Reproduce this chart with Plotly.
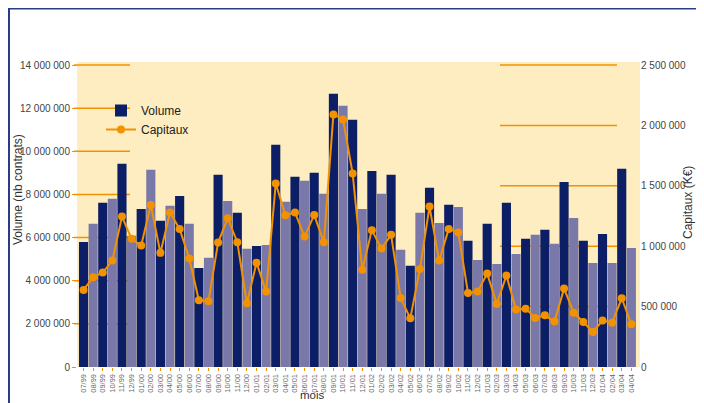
import plotly.graph_objects as go

months = ["07/99","08/99","09/99","10/99","11/99","12/99","01/00","02/00","03/00","04/00",
          "05/00","06/00","07/00","08/00","09/00","10/00","11/00","12/00","01/01","02/01",
          "03/01","04/01","05/01","06/01","07/01","08/01","09/01","10/01","11/01","12/01",
          "01/02","02/02","03/02","04/02","05/02","06/02","07/02","08/02","09/02","10/02",
          "11/02","12/02","01/03","02/03","03/03","04/03","05/03","06/03","07/03","08/03",
          "09/03","10/03","11/03","12/03","01/04","02/04","03/04","04/04"]

volume = [5800000, 6640000, 7610000, 7800000, 9420000, 6080000, 7330000, 9140000, 6780000, 7470000,
          7930000, 6640000, 4590000, 5060000, 8910000, 7700000, 7150000, 5480000, 5610000, 5660000,
          10300000, 7660000, 8820000, 8630000, 9000000, 8030000, 12670000, 12110000, 11460000, 7330000,
          9090000, 8030000, 8910000, 5430000, 4690000, 7150000, 8310000, 6680000, 7520000, 7420000,
          5850000, 4960000, 6640000, 4780000, 7610000, 5240000, 5940000, 6130000, 6360000, 5710000,
          8580000, 6910000, 5850000, 4820000, 6170000, 4820000, 9190000, 5520000]

capitaux = [638000, 743000, 782000, 881000, 1245000, 1061000, 1005000, 1342000, 945000, 1279000,
            1143000, 898000, 552000, 544000, 1030000, 1232000, 1033000, 528000, 864000, 624000,
            1519000, 1257000, 1279000, 1080000, 1259000, 1033000, 2091000, 2049000, 1602000, 806000,
            1133000, 980000, 1094000, 572000, 403000, 812000, 1328000, 881000, 1143000, 1113000,
            613000, 624000, 773000, 522000, 757000, 475000, 483000, 406000, 428000, 376000,
            649000, 450000, 373000, 290000, 384000, 367000, 569000, 354000]

left_ticks = [0, 2000000, 4000000, 6000000, 8000000, 10000000, 12000000, 14000000]
right_ticks = [0, 500000, 1000000, 1500000, 2000000, 2500000]

DARK = "#0C1E66"
LIGHT = "#7A78A8"
ORANGE = "#F39200"
bar_colors = [DARK if i % 2 == 0 else LIGHT for i in range(len(months))]

fig = go.Figure()
fig.add_trace(go.Bar(x=months, y=volume, name="Volume", marker=dict(color=bar_colors, line=dict(width=0)),
                     yaxis="y"))
fig.add_trace(go.Scatter(x=months, y=capitaux, name="Capitaux", mode="lines+markers",
                         line=dict(color=ORANGE, width=2), marker=dict(color=ORANGE, size=8),
                         yaxis="y2"))

# page has an 8px body margin: design in screen coords, figure offset by 8
OFF = 8
W, H = 704 - OFF, 403 - OFF
L, R, T, B = 77 - OFF, 640 - OFF, 62 - OFF, 367 - OFF
pw, ph = R - L, B - T

def px_x(p):
    return (p - OFF - L) / pw

def px_y(p):
    return (B - (p - OFF)) / ph

shapes = []
for v in left_ticks[1:]:
    shapes.append(dict(type="line", xref="paper", yref="y", x0=px_x(74), x1=px_x(130), y0=v, y1=v,
                       line=dict(color=ORANGE, width=1.5), layer="below"))
for v in right_ticks[1:]:
    shapes.append(dict(type="line", xref="paper", yref="y2", x0=px_x(500), x1=px_x(617), y0=v, y1=v,
                       line=dict(color=ORANGE, width=1.5), layer="below"))
shapes.append(dict(type="rect", xref="paper", yref="paper", x0=px_x(9), x1=px_x(697), y0=px_y(430), y1=px_y(8.5),
                   line=dict(color="#2B3C86", width=2), fillcolor="rgba(0,0,0,0)", layer="below"))

annotations = [
    dict(text="Volume (nb contrats)", xref="paper", yref="paper", x=px_x(18), y=px_y(190),
         textangle=-90, showarrow=False, font=dict(size=12, color="#333333"),
         xanchor="center", yanchor="middle"),
    dict(text="Capitaux (K€)", xref="paper", yref="paper", x=px_x(688), y=px_y(203),
         textangle=-90, showarrow=False, font=dict(size=12, color="#333333"),
         xanchor="center", yanchor="middle"),
    dict(text="mois", xref="paper", yref="paper", x=px_x(312), y=px_y(395),
         showarrow=False, font=dict(size=11.5, color="#333333"), xanchor="center", yanchor="middle"),
]

fig.update_layout(
    width=W, height=H,
    margin=dict(l=L, r=W - R, t=T, b=H - B, autoexpand=False),
    paper_bgcolor="white",
    plot_bgcolor="#FDEDC0",
    font=dict(family="Liberation Sans, Arial, sans-serif", size=10, color="#444444"),
    separators=", ",
    bargap=0.05,
    showlegend=True,
    legend=dict(x=px_x(101), y=px_y(96), xanchor="left", yanchor="top", bgcolor="rgba(0,0,0,0)",
                font=dict(size=12, color="#222222"), tracegroupgap=4, itemwidth=30),
    xaxis=dict(type="category", tickangle=-90, tickfont=dict(size=7.5, color="#666666"),
               tickmode="array", tickvals=months, ticktext=months, range=[-0.68, 57.9],
               showgrid=False, ticks="outside", ticklen=3, tickcolor=ORANGE,
               showline=False, zeroline=False, automargin=False),
    yaxis=dict(range=[0, 14000000 * ph / 302], tickvals=left_ticks, tickformat=",d",
               showgrid=False, zeroline=False, ticks="outside", ticklen=4, tickcolor=ORANGE,
               tickfont=dict(size=10, color="#444444"), automargin=False),
    yaxis2=dict(range=[0, 2500000 * ph / 302], tickvals=right_ticks, tickformat=",d",
                overlaying="y", side="right", showgrid=False, zeroline=False,
                tickfont=dict(size=10, color="#444444"), automargin=False),
    shapes=shapes,
    annotations=annotations,
)

fig.write_html("out.html")
